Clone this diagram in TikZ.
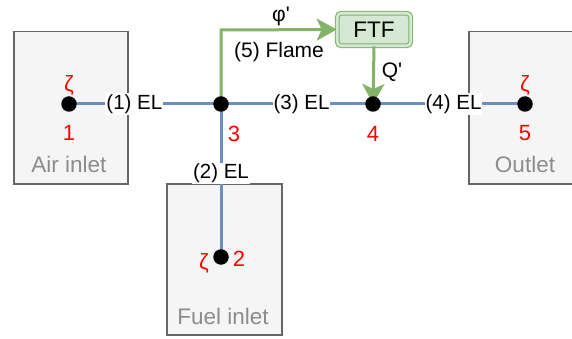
\documentclass[tikz,border=0pt]{standalone}
\usepackage{fontspec}
\setmainfont{Liberation Sans}[Ligatures=TeXOff]
\usetikzlibrary{arrows.meta}
\definecolor{bl}{HTML}{6C8EBF}
\definecolor{gr}{HTML}{82B366}
\definecolor{grfill}{HTML}{D5E8D4}
\definecolor{bxfill}{HTML}{F5F5F5}
\definecolor{bxline}{HTML}{666666}
\definecolor{bxtext}{HTML}{8C8C8C}
\definecolor{rd}{HTML}{FF0000}
\tikzset{
  unitbox/.style={draw=bxline, fill=bxfill, line width=1.5pt, inner sep=0pt, anchor=north west},
  boxtext/.style={text=bxtext, font=\fontsize{22.5}{26}\selectfont, inner sep=0pt},
  dotnode/.style={circle, fill=black, minimum size=15.5pt, inner sep=0pt},
  redtext/.style={text=rd, font=\fontsize{22}{26}\selectfont, inner sep=0pt},
  eltext/.style={fill=white, font=\fontsize{20.5}{24}\selectfont, inner sep=1pt},
  blline/.style={draw=bl, line width=3pt},
  grline/.style={draw=gr, line width=3pt, -{Stealth[length=20pt,width=22pt,inset=5pt]}},
  ftfbox/.style={draw=gr, line width=1.1pt, double=grfill, double distance=2.6pt, fill=grfill,
    rounded corners=4pt, minimum width=73.5pt, minimum height=32.5pt, inner sep=0pt,
    font=\fontsize{22.5}{26}\selectfont},
  plain/.style={font=\fontsize{21}{24}\selectfont, inner sep=0pt}
}
\begin{document}
\begin{tikzpicture}[x=1pt,y=-1pt]
\useasboundingbox (0,0) rectangle (572,339);
\clip (0,0) rectangle (572,339);
% boxes
\node[unitbox, minimum width=114pt, minimum height=152pt] (airbox) at (13,31) {};
\node[unitbox, minimum width=115pt, minimum height=151pt] (fuelbox) at (166,183) {};
\node[unitbox, minimum width=114pt, minimum height=152pt] (outbox) at (468,31) {};
\node[boxtext] (airtxt) at (69,164) {Air inlet};
\node[boxtext] (outtxt) at (525,164) {Outlet};
\node[boxtext] (fueltxt) at (223,316) {Fuel inlet};
% nodes
\coordinate (p1) at (69,104);
\coordinate (p3) at (221,104);
\coordinate (p4) at (373,104);
\coordinate (p5) at (525,104);
\coordinate (p2) at (221,257);
\coordinate (bend) at (221,30);
\node[ftfbox] (ftf) at (374,29.5) {FTF};
% lines
\draw[blline] (p1) -- node[eltext, pos=0.43] (el1) {(1) EL} (p3);
\draw[blline] (p3) -- node[eltext, pos=0.53] (el3) {(3) EL} (p4);
\draw[blline] (p4) -- node[eltext, pos=0.53] (el4) {(4) EL} (p5);
\draw[blline] (p3) -- node[eltext, pos=0.455] (el2) {(2) EL} (p2);
\draw[grline] (p3) -- (bend) -- (ftf.west);
\draw[grline] (ftf.south) -- (p4);
% dots
\node[dotnode] (n1) at (p1) {};
\node[dotnode] (n3) at (p3) {};
\node[dotnode] (n4) at (p4) {};
\node[dotnode] (n5) at (p5) {};
\node[dotnode] (n2) at (p2) {};
% labels
\node[redtext] (z1) at (69,85) {ζ};
\node[redtext] (l1) at (69,133) {1};
\node[redtext] (z5) at (525,85) {ζ};
\node[redtext] (l5) at (525,133) {5};
\node[redtext] (l3) at (234,134) {3};
\node[redtext] (l4) at (373,134) {4};
\node[redtext] (z2) at (204,263) {ζ};
\node[redtext] (l2) at (239,259) {2};
\node[plain] (flame) at (279,52) {(5) Flame};
\node[plain] (phi) at (281,16) {φ'};
\node[plain] (qp) at (392,72) {Q'};
\end{tikzpicture}
\end{document}
